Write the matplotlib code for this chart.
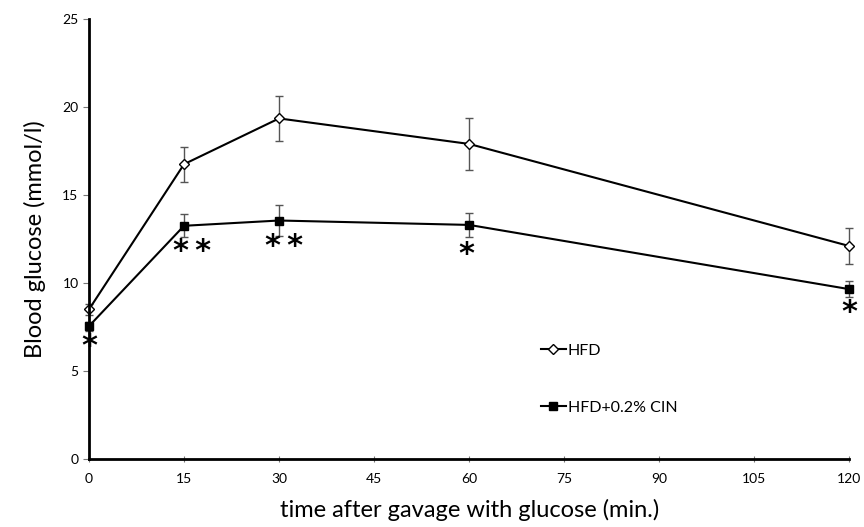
import matplotlib.pyplot as plt
from matplotlib.lines import Line2D

plt.rcParams['font.family'] = ['Lato', 'DejaVu Sans']

# Data
time = [0, 15, 30, 60, 120]
hfd = [8.5, 16.75, 19.35, 17.9, 12.1]
hfd_err = [0.3, 1.0, 1.3, 1.5, 1.0]
cin = [7.55, 13.25, 13.55, 13.3, 9.65]
cin_err = [0.25, 0.65, 0.9, 0.7, 0.45]

# significance marks: (x, y, text)
sig_x = [0, 16.3, 30.8, 59.6, 120]
sig_y = [6.4, 11.8, 12.1, 11.6, 8.3]
sig_text = ["*", "*\u2009*", "*\u2009*", "*", "*"]

fig = plt.figure(figsize=(8.64, 5.27), dpi=100)
ax = fig.add_axes([0.103, 0.129, 0.880, 0.835])

ax.errorbar(time, hfd, yerr=hfd_err, color='black', lw=1.5, marker='D',
            markersize=5, markerfacecolor='white', markeredgecolor='black',
            ecolor='#555555', elinewidth=1, capsize=3, clip_on=False)
ax.errorbar(time, cin, yerr=cin_err, color='black', lw=1.5, marker='s',
            markersize=6, markerfacecolor='black', markeredgecolor='black',
            ecolor='#555555', elinewidth=1, capsize=3, clip_on=False)

for x, y, s in zip(sig_x, sig_y, sig_text):
    ax.text(x, y, s, ha='center', va='center', fontsize=22,
            fontweight='bold', fontfamily='DejaVu Sans')

ax.set_xlim(0, 120)
ax.set_ylim(0, 25)
ax.set_xticks(range(0, 121, 15))
ax.set_yticks(range(0, 26, 5))
ax.tick_params(axis='both', labelsize=10, length=4, width=0.8, color='#777777')
ax.tick_params(axis='x', direction='inout', pad=8)

for side in ['top', 'right']:
    ax.spines[side].set_visible(False)
for side in ['left', 'bottom']:
    ax.spines[side].set_linewidth(2)

ax.set_ylabel('Blood glucose (mmol/l)', fontsize=17, labelpad=12)
ax.set_xlabel('time after gavage with glucose (min.)', fontsize=17, labelpad=10)

handles = [
    Line2D([], [], color='black', lw=1.5, marker='D', markersize=5,
           markerfacecolor='white', markeredgecolor='black'),
    Line2D([], [], color='black', lw=1.5, marker='s', markersize=6,
           markerfacecolor='black', markeredgecolor='black'),
]
ax.legend(handles, ['HFD', 'HFD+0.2% CIN'], loc='upper left',
          bbox_to_anchor=(0.575, 0.295), frameon=False, fontsize=11.5,
          handlelength=1.6, handletextpad=0.1, labelspacing=2.7)

fig.savefig('out.png', dpi=100)
